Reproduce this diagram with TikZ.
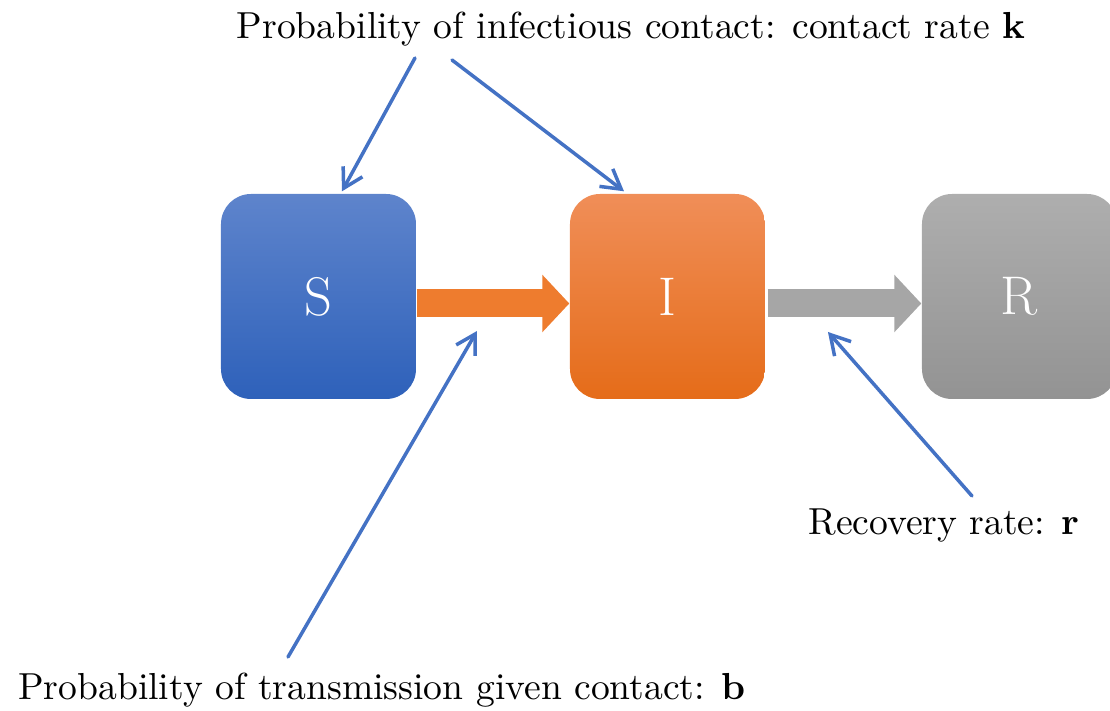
\documentclass[tikz,border=0pt]{standalone}
\usetikzlibrary{arrows.meta}

\definecolor{sblueTop}{RGB}{94,132,204}
\definecolor{sblueBot}{RGB}{46,97,186}
\definecolor{iorangeTop}{RGB}{240,142,88}
\definecolor{iorangeBot}{RGB}{229,108,25}
\definecolor{rgrayTop}{RGB}{174,174,174}
\definecolor{rgrayBot}{RGB}{147,147,147}
\definecolor{flowOrange}{RGB}{238,124,46}
\definecolor{flowGray}{RGB}{166,166,166}
\definecolor{lineBlue}{RGB}{68,114,196}

\tikzset{
    box/.style={rounded corners=0.3cm, minimum width=1.95cm, minimum height=2.05cm,
        inner sep=0pt, text=white, font=\fontsize{15.5}{18}\selectfont},
    flow/.style={line width=0.28cm, -{Triangle[length=0.27cm,width=0.56cm]}},
    pointer/.style={draw=lineBlue, line width=0.035cm, line cap=round,
        -{Straight Barb[length=0.19cm,width=0.22cm]}},
    caption/.style={font=\fontsize{10.7}{13}\selectfont, anchor=base, inner sep=0pt}
}

\begin{document}
\begin{tikzpicture}[x=1cm, y=-1cm]
\useasboundingbox (0,0) rectangle (11.1,7.11);

% Draw the compartments
\foreach \name/\x/\col in {S/3.185/sblue, I/6.675/iorange, R/10.195/rgray} {
    \node[box, top color=\col Top, bottom color=\col Bot] (\name) at (\x, 2.965) {\name};
}

% Draw the flows
\draw[flow, flowOrange] ([yshift=-0.07cm]S.east) -- ([yshift=-0.07cm]I.west);
\draw[flow, flowGray] ([xshift=0.02cm, yshift=-0.07cm]I.east) -- ([yshift=-0.07cm]R.west);

% Draw the rates
\node[caption] (k) at (6.31, 0.39) {Probability of infectious contact: contact rate \textbf{k}};
\node[caption] (b) at (3.82, 7.0) {Probability of transmission given contact: \textbf{b}};
\node[caption] (r) at (9.44, 5.35) {Recovery rate: \textbf{r}};

\coordinate (kS) at (4.15, 0.58);
\coordinate (kI) at (4.52, 0.60);
\coordinate (bStart) at (2.88, 6.57);
\coordinate (bEnd) at (4.77, 3.31);
\coordinate (rStart) at (9.72, 4.96);
\coordinate (rEnd) at (8.28, 3.32);

\draw[pointer] (kS) -- ([xshift=0.235cm, yshift=0.02cm]S.north);
\draw[pointer] (kI) -- ([xshift=-0.435cm, yshift=0.02cm]I.north);
\draw[pointer] (bStart) -- (bEnd);
\draw[pointer] (rStart) -- (rEnd);

\end{tikzpicture}
\end{document}
